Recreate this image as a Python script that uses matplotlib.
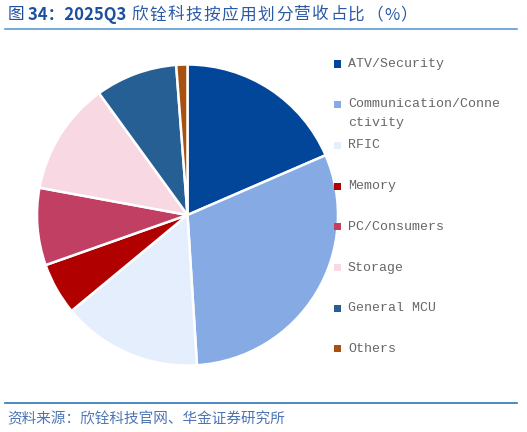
import matplotlib.pyplot as plt
from matplotlib.patches import Rectangle

plt.rcParams['font.family'] = ['Noto Sans CJK SC', 'DejaVu Sans']

labels = ["ATV/Security", "Communication/Conne\nctivity", "RFIC", "Memory",
          "PC/Consumers", "Storage", "General MCU", "Others"]
shares = [18.5, 30.5, 15.0, 5.6, 8.3, 12.1, 8.8, 1.2]
colors = ["#02469a", "#86abe4", "#e4eefc", "#b10000",
          "#c03f62", "#f8d9e3", "#255f93", "#a8500f"]

W, H = 527, 432
fig = plt.figure(figsize=(W / 100, H / 100), dpi=100)

# pie axes: centre (187.5, 215) px, radius 150.5 px
cx, cy, r = 187.5, 215, 150.5
ax = fig.add_axes([(cx - r) / W, (H - cy - r) / H, 2 * r / W, 2 * r / H])
ax.pie(shares, colors=colors, startangle=90, counterclock=False, radius=1,
       wedgeprops=dict(edgecolor="white", linewidth=1.8))
ax.set_xlim(-1, 1)
ax.set_ylim(-1, 1)
ax.set_aspect("equal")
ax.axis("off")

# legend drawn by hand to keep the original spacing
y0, step = 64, 40.7
for i, (lab, col) in enumerate(zip(labels, colors)):
    y = y0 + i * step
    fig.patches.append(Rectangle((334 / W, 1 - (y + 3.5) / H), 7 / W, 7 / H,
                                 transform=fig.transFigure, facecolor=col,
                                 edgecolor="none"))
    if "\n" in lab:
        fig.text(348 / W, 1 - (y - 7) / H, lab, family="Liberation Mono",
                 fontsize=9.5, color="#666666", va="top", linespacing=1.8)
    else:
        fig.text(348 / W, 1 - y / H, lab, family="Liberation Mono",
                 fontsize=9.5, color="#666666", va="center")

# title, CJK part spaced out a little like the original
t = fig.text(8 / W, 1 - 15 / H, "图 ", fontsize=12, color="#1d4f9f", va="center")
t = ax.annotate("34：2025Q3 ", xy=(1, 0.5), xycoords=t, va="center",
                fontsize=12, fontweight="bold", color="#1d4f9f",
                annotation_clip=False)
for ch in "欣铨科技按应用划分营收占比（%）":
    t = ax.annotate(ch, xy=(1, 0.5), xycoords=t, xytext=(1.0, 0),
                    textcoords="offset points", va="center", fontsize=12,
                    color="#2a5aa8", annotation_clip=False)

fig.add_artist(plt.Line2D([5 / W, 517 / W], [1 - 28.5 / H, 1 - 28.5 / H],
                          color="#5b9bd5", linewidth=1.2))
fig.add_artist(plt.Line2D([5 / W, 517 / W], [1 - 403 / H, 1 - 403 / H],
                          color="#2e75b6", linewidth=1.2))

fig.text(7 / W, 1 - 419 / H, "资料来源：欣铨科技官网、华金证券研究所",
         fontsize=10.5, style="italic", color="#4d74b3", va="center")

fig.savefig("out.png", dpi=100)
